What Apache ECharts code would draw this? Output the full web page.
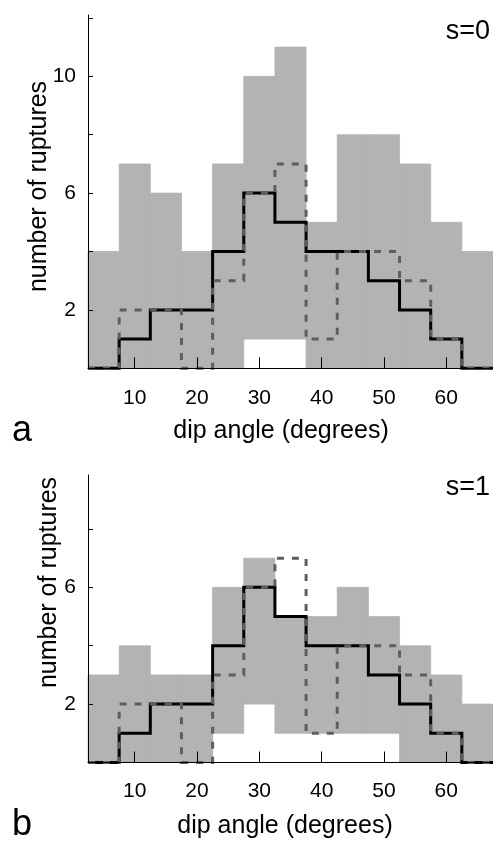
<!DOCTYPE html>
<html>
<head>
<meta charset="utf-8">
<script src="https://cdn.jsdelivr.net/npm/echarts@6/dist/echarts.min.js"></script>
<style>
  html, body { margin: 0; padding: 0; background: #fff; }
  #chart { width: 493px; height: 843px; }
</style>
</head>
<body>
<div id="chart"></div>
<script>
// Dip-angle histogram bins (degrees): centres and common width
const binCenters = [5, 10, 15, 20, 25, 30, 35, 40, 45, 50, 55, 60, 65];
const binWidth = 5;

// Grey band (range of counts per bin) for s=0
const bandLowS0  = [0, 0, 0, 0, 0, 1, 1, 0, 0, 0, 0, 0, 0];
const bandHighS0 = [4, 7, 6, 4, 7, 10, 11, 5, 8, 8, 7, 5, 4];

// Grey band (range of counts per bin) for s=1
const bandLowS1  = [0, 0, 0, 0, 1, 2, 1, 1, 1, 1, 0, 0, 0];
const bandHighS1 = [3, 4, 3, 3, 6, 7, 5, 5, 6, 5, 4, 3, 2];

// Step histograms drawn over the band (same in both panels)
const countsSolid  = [0, 1, 2, 2, 4, 6, 5, 4, 4, 3, 2, 1, 0];
const countsDashed = [0, 2, 2, 0, 3, 6, 7, 1, 4, 4, 3, 1, 0];

// Axis ticks and labels
const xTickValues = [10, 20, 30, 40, 50, 60];
const yTickValues = [2, 4, 6, 8, 10, 12];
const yLabelsTop = [2, 6, 10];
const yLabelsBottom = [2, 6];

const FONT = '"Liberation Sans", Arial, Helvetica, sans-serif';
const GREY = '#b3b3b3';

// [centre, low, high] rows for the band series
function bandRows(low, high) {
  return binCenters.map((c, i) => [c, low[i], high[i]]);
}

// Left bin edges with the bin's count, closed by the last right edge
function stepRows(counts) {
  const rows = binCenters.map((c, i) => [c - binWidth / 2, counts[i]]);
  const last = binCenters.length - 1;
  rows.push([binCenters[last] + binWidth / 2, counts[last]]);
  return rows;
}

function renderBand(params, api) {
  const c = api.value(0), lo = api.value(1), hi = api.value(2);
  const p0 = api.coord([c - binWidth / 2, hi]);
  const p1 = api.coord([c + binWidth / 2, lo]);
  return {
    type: 'rect',
    shape: { x: p0[0], y: p0[1], width: p1[0] - p0[0], height: p1[1] - p0[1] },
    style: { fill: GREY, stroke: GREY, lineWidth: 0.8 }
  };
}

function xAxisFor(gridIndex, labelMargin) {
  return {
    type: 'value', gridIndex, min: 2.5, max: 67.5, z: 10,
    axisLine: { show: true, onZero: false, lineStyle: { color: '#000', width: 1 } },
    axisTick: { show: true, inside: true, length: 11, customValues: xTickValues,
                lineStyle: { color: '#000', width: 1 } },
    axisLabel: { show: true, customValues: xTickValues, margin: labelMargin,
                 fontSize: 21, color: '#000', fontFamily: FONT },
    splitLine: { show: false }
  };
}

function yAxisFor(gridIndex, max, labels) {
  return {
    type: 'value', gridIndex, min: 0, max, z: 10,
    axisLine: { show: true, lineStyle: { color: '#000', width: 1 } },
    axisTick: { show: true, inside: true, length: 5, customValues: yTickValues,
                lineStyle: { color: '#000', width: 1 } },
    axisLabel: { show: true, customValues: labels, margin: 12,
                 fontSize: 21, color: '#000', fontFamily: FONT },
    splitLine: { show: false }
  };
}

function panelSeries(idx, low, high) {
  return [
    { type: 'custom', xAxisIndex: idx, yAxisIndex: idx, renderItem: renderBand,
      encode: { x: 0, y: [1, 2] }, data: bandRows(low, high), z: 1, silent: true },
    { type: 'line', xAxisIndex: idx, yAxisIndex: idx, data: stepRows(countsSolid),
      step: 'end', symbol: 'none', clip: false, z: 2, silent: true,
      lineStyle: { color: '#000', width: 3, cap: 'butt', join: 'miter' } },
    { type: 'line', xAxisIndex: idx, yAxisIndex: idx, data: stepRows(countsDashed),
      step: 'end', symbol: 'none', clip: false, z: 3, silent: true,
      lineStyle: { color: '#5e5e5e', width: 3, type: [7, 8], cap: 'butt', join: 'miter' } }
  ];
}

function label(text, x, y, size, align, rotation) {
  return {
    type: 'text', x, y, rotation: rotation || 0, z: 20,
    style: { text, fontSize: size, fontFamily: FONT, fill: '#000',
             align: align || 'center', verticalAlign: 'middle' }
  };
}

const chart = echarts.init(document.getElementById('chart'), null, { renderer: 'canvas' });
chart.setOption({
  animation: false,
  backgroundColor: '#fff',
  grid: [
    { left: 88, width: 405, top: 15, height: 353.3 },
    { left: 88, width: 405, top: 475, height: 287.5 }
  ],
  xAxis: [xAxisFor(0, 19), xAxisFor(1, 18)],
  yAxis: [yAxisFor(0, 12.1, yLabelsTop), yAxisFor(1, 9.85, yLabelsBottom)],
  series: [
    ...panelSeries(0, bandLowS0, bandHighS0),
    ...panelSeries(1, bandLowS1, bandHighS1)
  ],
  graphic: [
    label('s=0', 490, 32, 27, 'right'),
    label('s=1', 490, 488, 27, 'right'),
    label('a', 12, 431, 36, 'left'),
    label('b', 12, 825, 36, 'left'),
    label('dip angle (degrees)', 281, 431, 25),
    label('dip angle (degrees)', 285, 826, 25),
    label('number of ruptures', 39, 186.5, 25, 'center', Math.PI / 2),
    label('number of ruptures', 49, 582.5, 25, 'center', Math.PI / 2)
  ]
});
</script>
</body>
</html>
